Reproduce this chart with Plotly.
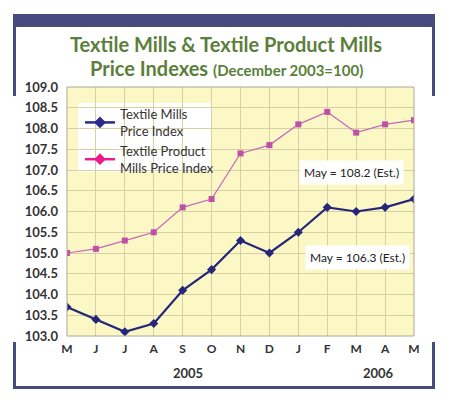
import plotly.graph_objects as go

months = ["M", "J", "J", "A", "S", "O", "N", "D", "J", "F", "M", "A", "M"]
textile_mills = [103.7, 103.4, 103.1, 103.3, 104.1, 104.6, 105.3, 105.0, 105.5, 106.1, 106.0, 106.1, 106.3]
textile_product = [105.0, 105.1, 105.3, 105.5, 106.1, 106.3, 107.4, 107.6, 108.1, 108.4, 107.9, 108.1, 108.2]
y_ticks = [103.0, 103.5, 104.0, 104.5, 105.0, 105.5, 106.0, 106.5, 107.0, 107.5, 108.0, 108.5, 109.0]
years = ["2005", "2006"]

x = list(range(len(months)))
OFF = 8  # page body margin
W, H = 450 - OFF, 406 - OFF
# plot area in page pixels
L, R, T, B = 67, 414, 87, 336

def px(v):
    return (v - L) / (R - L)

def py(v):
    return (B - v) / (B - T)

fig = go.Figure()
fig.add_trace(go.Scatter(x=x, y=textile_product, mode="lines+markers",
                         line=dict(color="#c466b8", width=1.2),
                         marker=dict(symbol="square", size=6, color="#c04fa8"),
                         showlegend=False))
fig.add_trace(go.Scatter(x=x, y=textile_mills, mode="lines+markers",
                         line=dict(color="#26267a", width=2.2),
                         marker=dict(symbol="diamond", size=7, color="#26267a"),
                         showlegend=False))
# legend entries
fig.add_trace(go.Scatter(x=[None], y=[None], mode="lines+markers", name="Textile Mills<br>Price Index",
                         line=dict(color="#2a2a8a", width=2.5),
                         marker=dict(symbol="diamond", size=9, color="#2a2a8a")))
fig.add_trace(go.Scatter(x=[None], y=[None], mode="lines+markers", name="Textile Product<br>Mills Price Index",
                         line=dict(color="#ec1b8c", width=2.5),
                         marker=dict(symbol="diamond", size=9, color="#ec1b8c")))

shapes = []
frame = "#464a7c"
shapes.append(dict(type="rect", xref="paper", yref="paper", x0=px(13), x1=px(435), y0=py(14), y1=py(27),
                   fillcolor=frame, line=dict(width=0), layer="below"))
for sx in (13, 432):
    shapes.append(dict(type="rect", xref="paper", yref="paper", x0=px(sx), x1=px(sx + 3), y0=py(14), y1=py(96),
                       fillcolor=frame, line=dict(width=0), layer="below"))
    shapes.append(dict(type="rect", xref="paper", yref="paper", x0=px(sx), x1=px(sx + 3), y0=py(342), y1=py(389),
                       fillcolor=frame, line=dict(width=0), layer="below"))
shapes.append(dict(type="rect", xref="paper", yref="paper", x0=px(13), x1=px(435), y0=py(386), y1=py(389),
                   fillcolor=frame, line=dict(width=0), layer="below"))
# legend white box
shapes.append(dict(type="rect", xref="paper", yref="paper", x0=px(78), x1=px(212), y0=py(103), y1=py(172),
                   fillcolor="white", line=dict(width=0), layer="between"))
# plot border
shapes.append(dict(type="rect", xref="paper", yref="paper", x0=0, x1=1, y0=0, y1=1,
                   line=dict(color="#a8a89a", width=1), layer="above"))

def ann(text, cx, cy, size, color, **kw):
    d = dict(xref="paper", yref="paper", x=px(cx), y=py(cy), xanchor="center", yanchor="middle",
             showarrow=False, text=text, font=dict(family="Lato", size=size, color=color))
    d.update(kw)
    return d

annotations = [
    ann("<b>Textile Mills & Textile Product Mills</b>", 226, 44, 20, "#5b7f3b"),
    ann("<b>Price Indexes </b><b><span style='font-size:15px'>(December 2003=100)</span></b>", 226, 68, 20, "#5b7f3b"),
    ann("May = 108.2 (Est.)", 351, 172, 12, "#222", bgcolor="white", borderpad=4),
    ann("May = 106.3 (Est.)", 357, 257, 12, "#222", bgcolor="white", borderpad=4),
    ann("<b>" + years[0] + "</b>", 188, 373, 13, "#333"),
    ann("<b>" + years[1] + "</b>", 378, 373, 13, "#333"),
]

fig.update_layout(
    width=W, height=H,
    margin=dict(l=L - OFF, r=(450 - R), t=T - OFF, b=(406 - B)),
    paper_bgcolor="white",
    plot_bgcolor="#fcf8c6",
    shapes=shapes,
    annotations=annotations,
    legend=dict(x=px(80), y=py(99), xanchor="left", yanchor="top", bgcolor="rgba(0,0,0,0)",
                font=dict(family="Lato", size=13, color="#333"), tracegroupgap=6,
                itemwidth=30),
    xaxis=dict(range=[0, 12], tickvals=x, ticktext=["<b>%s</b>" % m for m in months],
               showgrid=True, gridcolor="#d6d0a4", gridwidth=1, zeroline=False,
               tickfont=dict(family="Lato", size=12, color="#333"), ticks="", ticklabelstandoff=4),
    yaxis=dict(range=[103.0, 109.0], tickvals=y_ticks, ticktext=["<b>%.1f</b>" % v for v in y_ticks],
               showgrid=True, gridcolor="#d6d0a4", gridwidth=1, zeroline=False,
               tickfont=dict(family="Lato", size=13, color="#333"), ticks="", ticklabelstandoff=8),
)

fig.write_html("out.html")
